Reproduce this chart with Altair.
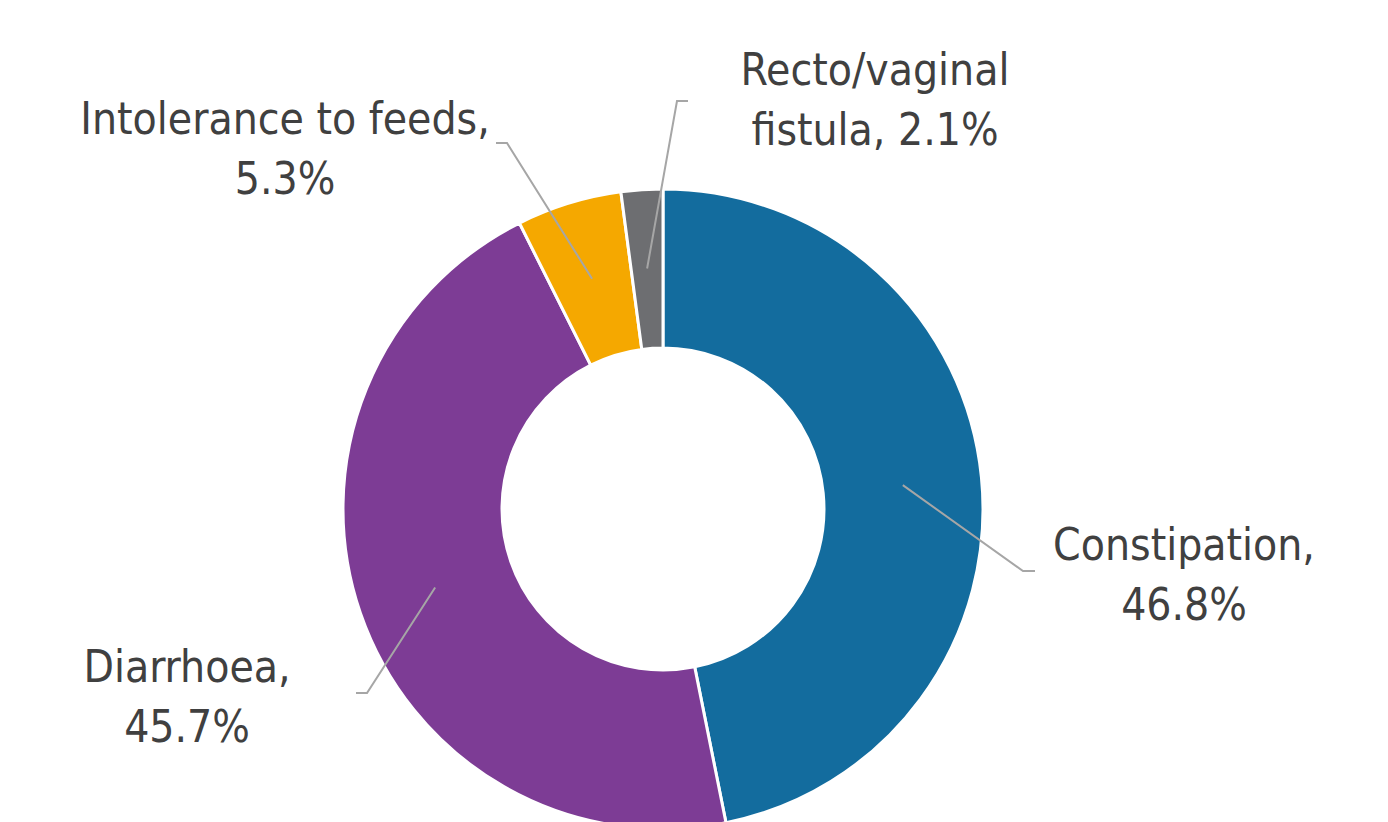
import math
import altair as alt
import pandas as pd

# ---- data ----
categories = ["Constipation", "Diarrhoea", "Intolerance to feeds", "Recto/vaginal fistula"]
values = [46.8, 45.7, 5.3, 2.1]
label_line1 = ["Constipation,", "Diarrhoea,", "Intolerance to feeds,", "Recto/vaginal"]
label_line2 = ["46.8%", "45.7%", "5.3%", "fistula, 2.1%"]

# ---- style / layout ----
colors = ["#136C9E", "#7D3C95", "#F5A800", "#6D6E71"]
W, H = 1372, 814
CX, CY = 655, 501
R_OUT, R_IN = 320, 161
R_LEAD = 241
FONT = "DejaVu Sans Condensed, Roboto, sans-serif"
FSIZE = 44
LINE_H = 60
# elbow point, end of horizontal tick, label centre x, first baseline y (chart px)
elbows = [(1015, 563), (359, 685), (499, 135), (669, 93)]
ends = [(1027, 563), (348, 685), (488, 135), (680, 93)]
label_pos = [(1176, 552), (179, 674), (277, 126), (867, 77)]

total = sum(values)
arc_df = pd.DataFrame({"cat": categories, "value": values, "order": range(len(values))})

# leader lines: start on ring at slice mid-angle
rows = []
cum = 0.0
for i, (c, v) in enumerate(zip(categories, values)):
    mid = (cum + v / 2) / total * 2 * math.pi
    cum += v
    sx = CX + R_LEAD * math.sin(mid)
    sy = CY - R_LEAD * math.cos(mid)
    pts = [(sx, sy), elbows[i], ends[i]]
    for j, (px, py) in enumerate(pts):
        rows.append({"cat": c, "seq": j, "px": px, "py": py})
line_df = pd.DataFrame(rows)

trows = []
for i, c in enumerate(categories):
    lx, ly = label_pos[i]
    trows.append({"cat": c, "txt": label_line1[i], "px": lx, "py": ly})
    trows.append({"cat": c, "txt": label_line2[i], "px": lx, "py": ly + LINE_H})
text_df = pd.DataFrame(trows)

xs = alt.Scale(domain=[0, W], range=[0, W])
ys = alt.Scale(domain=[0, H], range=[0, H])

arcs = alt.Chart(arc_df).mark_arc(radius=R_OUT, radius2=R_IN, stroke="white", strokeWidth=3).encode(
    theta=alt.Theta("value:Q", stack=True),
    order=alt.Order("order:Q"),
    color=alt.Color("cat:N", scale=alt.Scale(domain=categories, range=colors), legend=None),
    x=alt.value(CX),
    y=alt.value(CY),
)

leaders = alt.Chart(line_df).mark_line(color="#A6A6A6", strokeWidth=2).encode(
    x=alt.X("px:Q", scale=xs, axis=None),
    y=alt.Y("py:Q", scale=ys, axis=None),
    detail="cat:N",
    order="seq:Q",
)

labels = alt.Chart(text_df).mark_text(
    font=FONT, fontSize=FSIZE, color="#404040", align="center", baseline="alphabetic"
).encode(
    x=alt.X("px:Q", scale=xs, axis=None),
    y=alt.Y("py:Q", scale=ys, axis=None),
    text="txt:N",
)

chart = alt.layer(arcs, leaders, labels).properties(
    width=W, height=H, padding=0, autosize=alt.AutoSizeParams(type="none")
).configure_view(strokeWidth=0).resolve_scale(color="independent")

chart.save("out.html", embed_options={"renderer": "svg", "actions": False})
